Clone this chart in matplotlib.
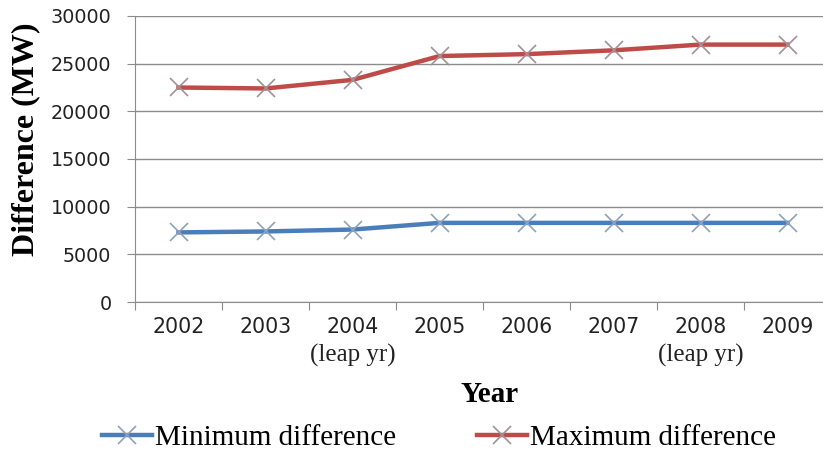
import matplotlib.pyplot as plt
import matplotlib.transforms as mtransforms

years = ["2002", "2003", "2004", "2005", "2006", "2007", "2008", "2009"]
notes = ["", "", "(leap yr)", "", "", "", "(leap yr)", ""]
min_diff = [7300, 7400, 7600, 8300, 8300, 8300, 8300, 8300]
max_diff = [22500, 22400, 23300, 25800, 26000, 26400, 27000, 27000]

fig = plt.figure(figsize=(8.23, 4.55), dpi=100)
ax = fig.add_axes([135 / 823, 1 - 302 / 455, 696 / 823, 286 / 455])

x = list(range(len(years)))
ax.plot(x, min_diff, color="#4A7EBB", linewidth=3.2, marker="x", markersize=13,
        markeredgewidth=1.2, markeredgecolor="#8FA2BA", label="Minimum difference", zorder=3)
ax.plot(x, max_diff, color="#BE4B48", linewidth=3.2, marker="x", markersize=13,
        markeredgewidth=1.2, markeredgecolor="#A29196", label="Maximum difference", zorder=3)

ax.set_xlim(-0.5, len(years) - 0.5)
ax.set_ylim(0, 30000)
ax.set_yticks(range(0, 30001, 5000))
ax.grid(axis="y", color="#8C8C8C", linewidth=1)
ax.set_axisbelow(True)

# category ticks sit between the years, labels at the centres
ax.set_xticks([i - 0.5 for i in range(len(years) + 1)])
ax.set_xticklabels([])
ax.set_xticks(x, minor=True)
ax.set_xticklabels(years, minor=True, fontsize=14.8, color="#222222", family="DejaVu Sans")
ax.tick_params(axis="x", which="minor", length=0, pad=11)
ax.tick_params(axis="x", which="major", length=6, color="#8C8C8C")
ax.tick_params(axis="y", length=6, color="#8C8C8C", labelsize=13.8, labelcolor="#222222", pad=11)

for side in ["top", "right"]:
    ax.spines[side].set_visible(False)
for side in ["left", "bottom"]:
    ax.spines[side].set_color("#8C8C8C")

trans = mtransforms.blended_transform_factory(ax.transData, fig.transFigure)
for i, note in enumerate(notes):
    if note:
        ax.text(i, 1 - 355 / 455, note, transform=trans, ha="center", va="center",
                fontsize=18, family="Liberation Serif", color="#222222")

fig.text(490 / 823, 1 - 395 / 455, "Year", ha="center", va="center",
         fontsize=21, fontweight="bold", family="Liberation Serif")
fig.text(26 / 823, 1 - 139 / 455, "Difference (MW)", ha="center", va="center",
         rotation=90, fontsize=23, fontweight="bold", family="Liberation Serif")

fig.legend(loc="center", bbox_to_anchor=(439 / 823, 1 - 438 / 455), ncol=2, frameon=False,
           prop={"family": "Liberation Serif", "size": 21}, handlelength=1.7,
           handletextpad=0.1, columnspacing=2.8)

fig.savefig("out.png", dpi=100)
